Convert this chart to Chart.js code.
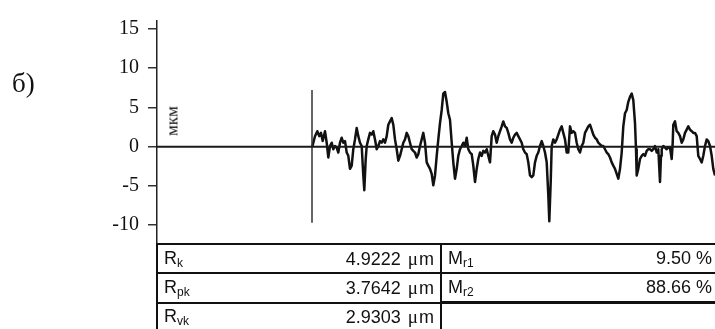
<!DOCTYPE html>
<html>
<head>
<meta charset="utf-8">
<script src="https://cdn.jsdelivr.net/npm/chart.js@4/dist/chart.umd.min.js"></script>
<style>
  html, body { margin: 0; padding: 0; background: #fff; }
  #wrap { position: relative; width: 715px; height: 329px; overflow: hidden; background: #fff; }
  #plot { position: absolute; left: 0; top: 0; }
  .panel { position: absolute; left: 12px; top: 68px; font: 27px 'Liberation Serif', 'Times New Roman', serif; color: #111; line-height: 30px; }
  .unit { position: absolute; left: 172px; top: 121px; font: 17px 'Liberation Serif', 'Times New Roman', serif; color: #111;
          transform: translate(-50%, -50%) rotate(-90deg); white-space: nowrap; line-height: 17px; }
  table.params { position: absolute; left: 156px; top: 243px; width: 562px; border-collapse: collapse;
                 font: 18px 'Liberation Sans', Arial, sans-serif; color: #111; }
  table.params td { height: 27px; padding: 0; border-top: 2px solid #111; white-space: nowrap; }
  table.params td.lab { padding-left: 6px; border-left: 2px solid #111; }
  table.params td.val { text-align: right; padding-right: 6px; }
  table.params sub { font-size: 12px; vertical-align: -3px; }
  table.params td.heavy { border-top: 3px solid #111; }
  .mu { font-family: 'Liberation Serif', 'Times New Roman', serif; font-size: 19px; margin: 0 1px 0 2px; }
</style>
</head>
<body>
<div id="wrap">
  <canvas id="plot" width="715" height="329"></canvas>
  <div class="panel">б)</div>
  <div class="unit">мкм</div>
  <table class="params">
    <colgroup><col style="width:110px"><col style="width:174px"><col style="width:110px"><col></colgroup>
    <tr><td class="lab">R<sub>k</sub></td><td class="val">4.9222 <span class="mu">μ</span>m</td><td class="lab">M<sub>r1</sub></td><td class="val">9.50 %</td></tr>
    <tr><td class="lab">R<sub>pk</sub></td><td class="val">3.7642 <span class="mu">μ</span>m</td><td class="lab">M<sub>r2</sub></td><td class="val">88.66 %</td></tr>
    <tr><td class="lab">R<sub>vk</sub></td><td class="val">2.9303 <span class="mu">μ</span>m</td><td class="lab heavy"></td><td class="val heavy"></td></tr>
  </table>
</div>
<script>
// Roughness profile: position along the trace (mm) and height (мкм)
const profileX = [
  1.553, 1.580, 1.603, 1.623, 1.640, 1.657, 1.680, 1.697, 1.713, 1.730,
  1.747, 1.763, 1.780, 1.797, 1.813, 1.830, 1.847, 1.863, 1.880, 1.897,
  1.913, 1.930, 1.947, 1.963, 1.980, 1.997, 2.013, 2.030, 2.047, 2.063,
  2.073, 2.087, 2.097, 2.113, 2.130, 2.147, 2.163, 2.180, 2.197, 2.213,
  2.230, 2.247, 2.263, 2.280, 2.297, 2.313, 2.330, 2.347, 2.363, 2.380,
  2.397, 2.413, 2.430, 2.447, 2.463, 2.480, 2.497, 2.513, 2.530, 2.547,
  2.563, 2.580, 2.597, 2.613, 2.630, 2.647, 2.663, 2.680, 2.697, 2.713,
  2.730, 2.747, 2.763, 2.780, 2.797, 2.813, 2.830, 2.847, 2.863, 2.880,
  2.897, 2.913, 2.930, 2.947, 2.963, 2.980, 2.997, 3.013, 3.030, 3.047,
  3.063, 3.080, 3.097, 3.113, 3.130, 3.147, 3.163, 3.180, 3.197, 3.213,
  3.230, 3.247, 3.263, 3.280, 3.297, 3.313, 3.330, 3.347, 3.363, 3.380,
  3.397, 3.413, 3.430, 3.447, 3.463, 3.480, 3.497, 3.513, 3.530, 3.547,
  3.563, 3.580, 3.597, 3.613, 3.630, 3.647, 3.663, 3.680, 3.697, 3.713,
  3.730, 3.747, 3.763, 3.780, 3.797, 3.813, 3.830, 3.847, 3.863, 3.880,
  3.897, 3.913, 3.923, 3.937, 3.947, 3.963, 3.980, 3.997, 4.013, 4.030,
  4.047, 4.063, 4.080, 4.097, 4.113, 4.130, 4.147, 4.163, 4.180, 4.197,
  4.213, 4.230, 4.247, 4.263, 4.280, 4.297, 4.313, 4.330, 4.347, 4.363,
  4.380, 4.397, 4.413, 4.430, 4.447, 4.463, 4.480, 4.497, 4.513, 4.530,
  4.547, 4.563, 4.580, 4.597, 4.613, 4.630, 4.647, 4.663, 4.680, 4.697,
  4.713, 4.730, 4.747, 4.763, 4.780, 4.790, 4.797, 4.813, 4.830, 4.847,
  4.863, 4.880, 4.897, 4.913, 4.930, 4.947, 4.963, 4.980, 4.997, 5.013,
  5.030, 5.040, 5.047, 5.063, 5.080, 5.097, 5.113, 5.130, 5.147, 5.157,
  5.163, 5.180, 5.197, 5.213, 5.230, 5.247, 5.263, 5.280, 5.297, 5.313,
  5.330, 5.347, 5.363, 5.380, 5.397, 5.413, 5.430, 5.447, 5.463, 5.480,
  5.497, 5.513, 5.530, 5.547, 5.563, 5.580
];
const profileY = [
  0.00, 1.33, 1.96, 1.33, 1.75, 0.71, 1.96, 0.50, -1.38, 0.08,
  0.50, -0.33, 0.08, -0.13, -0.75, 0.50, 1.13, 0.50, 0.71, -0.75,
  -1.17, -2.83, -2.42, -0.33, 0.92, 2.38, 1.33, 0.50, 0.08, -3.67,
  -5.54, -1.58, 0.08, 0.92, 1.75, 1.54, 1.96, 0.92, -0.33, 0.08,
  0.71, 0.50, 0.92, 0.50, 1.33, 2.79, 3.21, 3.63, 2.79, 0.92,
  -0.33, -1.79, -1.17, -0.33, 0.50, 0.92, 1.75, 1.33, 0.50, -0.33,
  -0.54, -0.75, -1.38, -0.96, 0.08, 0.92, 1.75, 0.50, -2.00, -2.42,
  -2.83, -3.46, -4.92, -3.67, -1.17, 0.92, 3.00, 4.67, 6.75, 6.96,
  5.71, 4.25, 3.42, 0.50, -2.00, -4.08, -2.83, -1.17, -0.33, 0.08,
  0.50, 0.08, 1.13, -0.33, -0.75, -0.96, -2.42, -4.50, -2.83, -1.58,
  -0.75, -1.17, -0.54, -0.75, -0.33, -1.17, -2.00, 1.33, 1.96, 1.54,
  0.50, 1.33, 1.96, 2.58, 3.21, 2.58, 2.38, 1.75, 0.92, 0.50,
  1.13, 1.54, 1.75, 1.33, 0.92, 0.50, -0.33, -0.75, -0.96, -2.00,
  -3.67, -3.88, -3.67, -2.00, -1.17, -0.75, 0.08, 0.71, 0.08, -0.75,
  -2.00, -6.17, -9.50, -4.50, 0.08, 0.92, 0.50, 0.92, 1.54, 2.17,
  2.58, 1.75, 0.92, -0.75, -0.75, 2.58, 1.75, 1.96, 1.75, 0.50,
  -0.33, -0.75, 0.08, 0.50, 1.75, 2.17, 2.58, 2.79, 2.17, 1.54,
  1.13, 0.92, 0.50, 0.29, 0.08, 0.08, -0.33, -0.75, -0.96, -1.38,
  -2.00, -2.42, -2.83, -3.46, -4.08, -2.83, -0.75, 2.58, 4.25, 4.67,
  5.71, 6.33, 6.75, 5.92, 3.00, -0.33, -3.67, -2.83, -1.58, -1.17,
  -0.96, -1.17, -0.54, -0.33, -0.33, -0.54, -0.33, 0.08, -0.75, -0.33,
  -4.50, -1.17, -0.33, 0.08, -0.13, -0.33, -0.13, -0.13, -1.58, 0.50,
  2.79, 3.21, 1.96, 1.75, 1.33, 0.50, 0.92, 1.75, 2.17, 2.58,
  2.17, 1.96, 1.75, 1.75, 1.33, -1.17, -1.58, -2.00, -1.17, 0.08,
  0.92, 0.71, 0.08, -1.17, -2.83, -3.67
];

// Mean (zero) line across the whole trace length and the start-of-evaluation marker
const traceLength = 5.58;
const markerX = 1.55;
const markerRange = [7.2, -9.7];

// Vertical axis range and labelled ticks (мкм)
const yMin = -12.4;
const yMax = 16;
const yTicks = [-10, -5, 0, 5, 10, 15];

const serif = "'Liberation Serif', 'Times New Roman', serif";

new Chart(document.getElementById('plot'), {
  type: 'line',
  data: {
    datasets: [
      {
        data: [{ x: 0, y: 0 }, { x: traceLength, y: 0 }],
        borderColor: '#1a1a1a', borderWidth: 2, pointRadius: 0
      },
      {
        data: markerRange.map(v => ({ x: markerX, y: v })),
        borderColor: '#333', borderWidth: 1.5, pointRadius: 0
      },
      {
        data: profileX.map((x, i) => ({ x, y: profileY[i] })),
        borderColor: '#111', borderWidth: 2.5, pointRadius: 0, tension: 0,
        borderJoinStyle: 'round'
      }
    ]
  },
  options: {
    responsive: false,
    devicePixelRatio: 1,
    animation: false,
    layout: { padding: { top: 15, bottom: 85, left: 0, right: 0 } },
    plugins: { legend: { display: false }, tooltip: { enabled: false } },
    scales: {
      x: { type: 'linear', min: 0, max: traceLength, display: false },
      y: {
        min: yMin, max: yMax,
        afterBuildTicks: s => { s.ticks = yTicks.map(v => ({ value: v })); },
        afterFit: s => { s.width = 157; },
        ticks: { color: '#111', padding: 9, font: { family: serif, size: 20 } },
        grid: { drawOnChartArea: false, drawTicks: true, tickLength: 9, color: '#333', lineWidth: 1.5 },
        border: { display: true, color: '#222', width: 1.5 }
      }
    }
  }
});
</script>
</body>
</html>
